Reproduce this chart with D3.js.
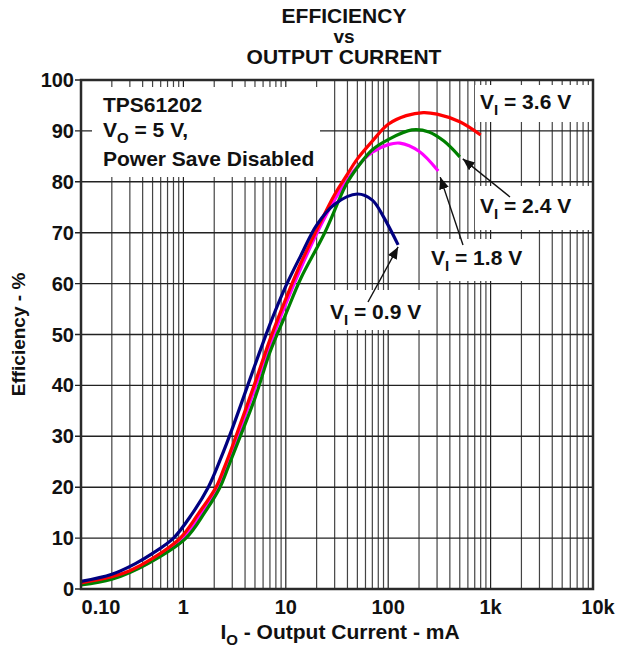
<!DOCTYPE html>
<html>
<head>
<meta charset="utf-8">
<script src="https://cdn.jsdelivr.net/npm/d3@7/dist/d3.min.js"></script>
<style>
  html, body { margin: 0; padding: 0; background: #fff; }
  svg { display: block; }
  text { font-family: "Liberation Sans", Arial, sans-serif; font-weight: bold; fill: #111; }
</style>
</head>
<body>
<svg id="chart" width="618" height="649"></svg>
<script>
// ---------------- data ----------------
const titleLines = ["EFFICIENCY", "vs", "OUTPUT CURRENT"];
const xTickValues = [0.1, 1, 10, 100, 1000, 10000];
const xTickLabels = ["0.10", "1", "10", "100", "1k", "10k"];
const yTickValues = [0, 10, 20, 30, 40, 50, 60, 70, 80, 90, 100];

const seriesNames = ["0.9", "1.8", "2.4", "3.6"];
const seriesColors = ["#000080", "#ff00ff", "#008000", "#ff0000"];

const io09  = [0.1, 0.2, 0.34, 0.5, 0.8, 1.2, 1.75, 2.3, 3, 5, 7, 10, 14, 20, 30, 50, 70, 90, 125];
const eff09 = [1.5, 2.9, 5, 7, 10, 14.6, 20, 25.5, 31.5, 44, 52, 59.5, 65.5, 71.5, 75.6, 77.6, 76.4, 73.1, 67.6];

const io18  = [0.1, 0.2, 0.5, 1, 1.5, 2.2, 2.6, 3, 5, 7, 10, 14, 20, 30, 50, 70, 100, 130, 200, 308];
const eff18 = [1.1, 2.2, 5.6, 10.2, 14.8, 20, 23.5, 27, 39.5, 48, 56, 63, 69.8, 76.5, 83, 85.8, 87.3, 87.6, 86, 82.1];

const io24  = [0.1, 0.2, 0.45, 1.06, 1.6, 2.28, 2.65, 3, 5, 7, 10, 14, 24, 39, 50, 70, 100, 170, 250, 350, 500];
const eff24 = [0.8, 1.9, 5, 10, 14.9, 20, 23.2, 26, 37.5, 46.5, 54, 61, 70, 79.5, 82.8, 86.3, 88.3, 90.2, 89.8, 88, 84.9];

const io36  = [0.1, 0.2, 0.3, 0.5, 0.93, 1.4, 2.08, 2.5, 3, 5, 7, 10, 14, 20, 30, 40, 50, 70, 100, 150, 220, 300, 500, 800];
const eff36 = [1.2, 2.4, 3.6, 6, 10, 14.8, 20, 23.8, 28, 40.5, 49, 57, 64, 70.5, 77.5, 81.5, 84.5, 88, 91.3, 93, 93.6, 93.3, 91.8, 89.2];

const seriesIo  = [io09, io18, io24, io36];
const seriesEff = [eff09, eff18, eff24, eff36];

// ---------------- layout ----------------
const svg = d3.select("#chart");
const L = 81, R = 593, T = 80, B = 589;
const x = d3.scaleLog().domain([0.1, 10000]).range([L, R]);
const y = d3.scaleLinear().domain([0, 100]).range([B, T]);

// title
svg.selectAll("text.title").data(titleLines).enter().append("text")
  .attr("class", "title")
  .attr("x", 344).attr("y", (d, i) => [23, 43, 64][i])
  .attr("text-anchor", "middle").attr("font-size", (d, i) => i === 1 ? 19 : 21)
  .text(d => d);

// grid
const minor = [];
for (let e = -1; e < 4; e++) for (let m = 1; m < 10; m++) minor.push(m * Math.pow(10, e));
const gGrid = svg.append("g");
gGrid.selectAll("line.v").data(minor).enter().append("line")
  .attr("x1", d => x(d)).attr("x2", d => x(d)).attr("y1", T).attr("y2", B)
  .attr("stroke", (d) => Math.abs(Math.log10(d) - Math.round(Math.log10(d))) < 1e-9 ? "#222" : "#444")
  .attr("stroke-width", 1.2);
gGrid.selectAll("line.h").data(yTickValues).enter().append("line")
  .attr("x1", L - 6).attr("x2", R).attr("y1", d => y(d)).attr("y2", d => y(d))
  .attr("stroke", "#222").attr("stroke-width", 1.4);

// white label boxes
const boxes = [
  [92, 87, 228, 90],
  [475, 85, 116, 37],
  [475, 186, 116, 44],
  [424, 239, 108, 42],
  [323, 290, 106, 40]
];
svg.append("g").selectAll("rect").data(boxes).enter().append("rect")
  .attr("x", d => d[0]).attr("y", d => d[1]).attr("width", d => d[2]).attr("height", d => d[3])
  .attr("fill", "#fff");

// curves
const line = d3.line().x(d => x(d[0])).y(d => y(d[1])).curve(d3.curveCatmullRom.alpha(0.5));
const drawOrder = [1, 2, 3, 0];
svg.append("g").selectAll("path").data(drawOrder).enter().append("path")
  .attr("d", i => line(seriesIo[i].map((v, k) => [v, seriesEff[i][k]])))
  .attr("fill", "none").attr("stroke", i => seriesColors[i])
  .attr("stroke-width", 3.2).attr("stroke-linejoin", "round").attr("stroke-linecap", "butt");

// frame
svg.append("rect").attr("x", L).attr("y", T).attr("width", R - L).attr("height", B - T)
  .attr("fill", "none").attr("stroke", "#2a2a2a").attr("stroke-width", 2.5);

// y tick labels
svg.append("g").selectAll("text").data(yTickValues).enter().append("text")
  .attr("x", 74).attr("y", d => y(d) + 7).attr("text-anchor", "end").attr("font-size", 20)
  .text(d => d);

// x tick labels
svg.append("g").selectAll("text").data(xTickValues).enter().append("text")
  .attr("x", (d, i) => x(d) + (i === 0 ? 20 : i === 5 ? 5 : 0))
  .attr("y", 614).attr("text-anchor", "middle").attr("font-size", 20)
  .text((d, i) => xTickLabels[i]);

// axis titles
const xt = svg.append("text").attr("x", 340).attr("y", 639).attr("text-anchor", "middle").attr("font-size", 21);
xt.append("tspan").text("I");
xt.append("tspan").attr("font-size", 15).attr("dy", 6).text("O");
xt.append("tspan").attr("dy", -6).text(" - Output Current - mA");

svg.append("text").attr("transform", "translate(25," + ((T + B) / 2) + ") rotate(-90)")
  .attr("text-anchor", "middle").attr("font-size", 19).text("Efficiency - %");

// device note
const note = svg.append("g");
note.append("text").attr("x", 103).attr("y", 112).attr("font-size", 21).text("TPS61202");
const vo = note.append("text").attr("x", 103).attr("y", 137).attr("font-size", 21);
vo.append("tspan").text("V");
vo.append("tspan").attr("font-size", 15).attr("dy", 6).text("O");
vo.append("tspan").attr("dy", -6).text(" = 5 V,");
note.append("text").attr("x", 103).attr("y", 166).attr("font-size", 21).text("Power Save Disabled");

// series labels
const labelPos = [[330, 319], [431, 265], [480, 213], [480, 109]];
labelPos.forEach((p, i) => {
  const t = svg.append("text").attr("x", p[0]).attr("y", p[1]).attr("font-size", 21);
  t.append("tspan").text("V");
  t.append("tspan").attr("font-size", 15).attr("dy", 6).text("I");
  t.append("tspan").attr("dy", -6).text(" = " + seriesNames[i] + " V");
});

// arrows: tail in pixels, head at end of series
const defs = svg.append("defs");
defs.append("marker").attr("id", "ah").attr("viewBox", "0 0 12 10")
  .attr("refX", 12).attr("refY", 5).attr("markerWidth", 12).attr("markerHeight", 10)
  .attr("markerUnits", "userSpaceOnUse").attr("orient", "auto")
  .append("path").attr("d", "M0,0 L12,5 L0,10 Z").attr("fill", "#111");
const arrowTails = { 0: [368, 302], 1: [463, 245], 2: [510, 197] };
const arrowOff = { 0: [0, 2], 1: [2, 6], 2: [3, 2] };
Object.keys(arrowTails).forEach(k => {
  const i = +k;
  const n = seriesIo[i].length - 1;
  const hx = x(seriesIo[i][n]) + arrowOff[i][0], hy = y(seriesEff[i][n]) + arrowOff[i][1];
  svg.append("line").attr("x1", arrowTails[i][0]).attr("y1", arrowTails[i][1])
    .attr("x2", hx).attr("y2", hy).attr("stroke", "#111").attr("stroke-width", 1.4)
    .attr("marker-end", "url(#ah)");
});
</script>
</body>
</html>
